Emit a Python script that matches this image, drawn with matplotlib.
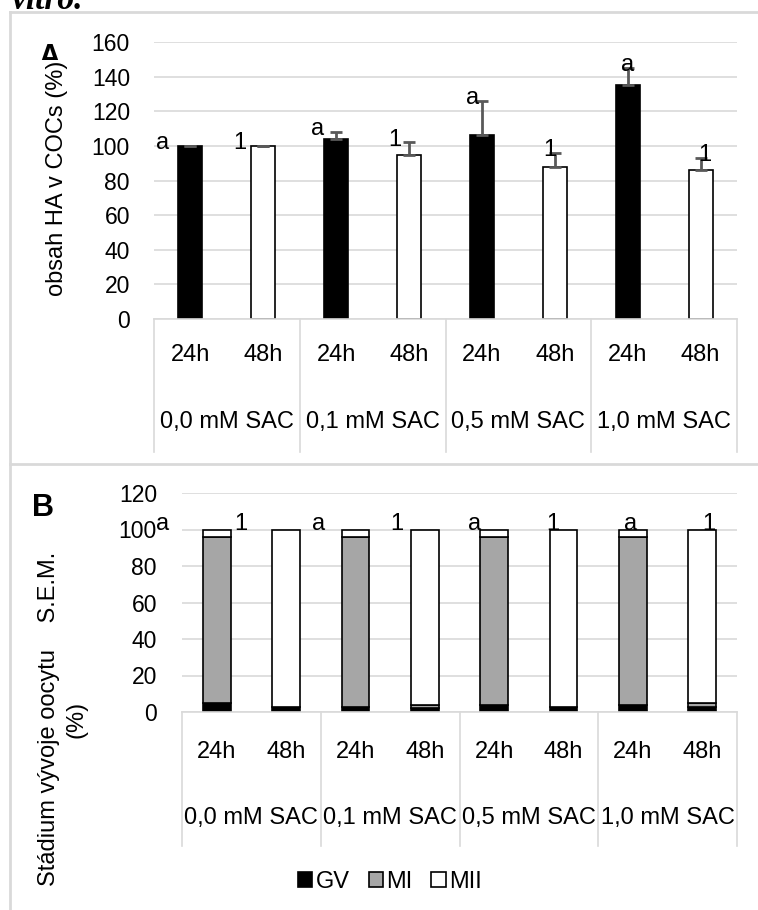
import matplotlib.pyplot as plt
from matplotlib.patches import Rectangle
from matplotlib.lines import Line2D
import numpy as np

plt.rcParams['font.family'] = ['Liberation Sans', 'DejaVu Sans']

# --- data ---
koncentrace = ["0,0 mM SAC", "0,1 mM SAC", "0,5 mM SAC", "1,0 mM SAC"]
casy = ["24h", "48h"]

# A: obsah HA v COCs (%) a S.E.M.
ha_obsah = [100, 100, 104, 95, 106, 88, 135, 86]
ha_sem = [0, 0, 4, 7, 20, 8, 10, 7]
ha_pismena = ["a", "1", "a", "1", "a", "1", "a", "1"]

# B: stadium vyvoje oocytu (%)
gv = [5, 3, 3, 2, 4, 3, 4, 2.5]
mi = [91, 0, 93, 2, 92, 0, 92, 2.5]
mii = [4, 97, 4, 96, 4, 97, 4, 95]
stadium_pismena = ["a", "1", "a", "1", "a", "1", "a", "1"]

W, H = 758, 910
SEDA = '#d9d9d9'
fig = plt.figure(figsize=(W / 100, H / 100), dpi=100)


def osa(l, t, r, b):
    return fig.add_axes([l / W, 1 - b / H, (r - l) / W, (b - t) / H])


def styl(ax, ymax, pad, d1, d2, dsep):
    ax.set_xlim(-0.5, 7.5)
    ax.set_ylim(0, ymax)
    ax.set_yticks(range(0, ymax + 1, 20))
    ax.yaxis.grid(True, color=SEDA, lw=1.2)
    ax.set_axisbelow(True)
    for s in ['top', 'right', 'left']:
        ax.spines[s].set_visible(False)
    ax.spines['bottom'].set_color(SEDA)
    ax.spines['bottom'].set_linewidth(1.2)
    ax.tick_params(axis='y', length=0, pad=pad, labelsize=16.5)
    ax.set_xticks([])
    tr = ax.get_xaxis_transform()
    h = ax.get_position().height * H
    for i in range(8):
        ax.annotate(casy[i % 2], xy=(i, 0), xycoords=tr, xytext=(0, -d1 * 0.72),
                    textcoords='offset points', ha='center', va='center', fontsize=17)
    for g in range(4):
        ax.annotate(koncentrace[g], xy=(2 * g + 0.5, 0), xycoords=tr, xytext=(0, -d2 * 0.72),
                    textcoords='offset points', ha='center', va='center', fontsize=17)
    for xs in [-0.5, 1.5, 3.5, 5.5, 7.5]:
        ax.plot([xs, xs], [0, -dsep / h], transform=tr, color=SEDA, lw=1.2, clip_on=False)


x = np.arange(8)

# --- panel A ---
axA = osa(154, 42, 737, 319)
barvy = ['black', 'white'] * 4
axA.bar(x, ha_obsah, width=0.33, color=barvy, edgecolor='black', linewidth=1.2, zorder=2)
axA.errorbar(x, ha_obsah, yerr=[np.zeros(8), ha_sem], fmt='none', ecolor='#595959',
             elinewidth=2, capsize=4, capthick=2, zorder=3)
for i in range(8):
    axA.text(i - 0.38 + 0.063 * i, ha_obsah[i] + ha_sem[i] - 2, ha_pismena[i],
             ha='center', va='baseline', fontsize=17, zorder=4)
styl(axA, 160, 17.3, 36, 103, 133)

# --- panel B ---
axB = osa(182, 493, 737, 712)
b1 = axB.bar(x, gv, width=0.4, color='black', edgecolor='black', linewidth=1.2, zorder=2)
b2 = axB.bar(x, mi, width=0.4, bottom=gv, color='#a6a6a6', edgecolor='black', linewidth=1.2, zorder=2)
dno = np.add(gv, mi)
b3 = axB.bar(x, mii, width=0.4, bottom=dno, color='white', edgecolor='black', linewidth=1.2, zorder=2)
celkem = dno + np.array(mii)
for i in range(8):
    axB.text(i - 0.78 + 0.125 * i, celkem[i], stadium_pismena[i],
             ha='center', va='baseline', fontsize=17, zorder=4)
styl(axB, 120, 18, 40, 106, 134)

fig.legend([b1, b2, b3], ['GV', 'MI', 'MII'], loc='center', bbox_to_anchor=(390 / W, 1 - 882 / H),
           ncol=3, frameon=False, fontsize=17, handlelength=0.6, handleheight=0.6,
           handletextpad=0.15, columnspacing=0.8)

# popisky os a panelu
fig.text(57 / W, 1 - 178 / H, 'obsah HA v COCs (%)', rotation=90, ha='center', va='center',
         fontsize=17, zorder=4)
fig.text(63 / W, 1 - 719 / H, 'Stádium vývoje oocytu    S.E.M.\n(%)', rotation=90,
         ha='center', va='center', fontsize=17, linespacing=1.3, zorder=4)
fig.text(38 / W, 1 - 43 / H, 'A', fontsize=22, fontweight='bold', ha='left', va='top', zorder=3)
fig.patches.append(Rectangle((28 / W, 1 - 74 / H), 42 / W, 14 / H, transform=fig.transFigure,
                             facecolor='white', edgecolor='none', zorder=3.5))
fig.text(32 / W, 1 - 493 / H, 'B', fontsize=22, fontweight='bold', ha='left', va='top')
fig.text(12 / W, 1 - 9 / H, 'vitro.', fontsize=24, fontweight='bold', style='italic',
         family='Liberation Serif', ha='left', va='baseline')

# ramecky panelu
for xs, ys in [([10, W], [12, 12]), ([10, 10], [12, H]), ([10, W], [464, 464])]:
    fig.add_artist(Line2D([v / W for v in xs], [1 - v / H for v in ys], color=SEDA, lw=2))

fig.savefig('out.png', dpi=100)
